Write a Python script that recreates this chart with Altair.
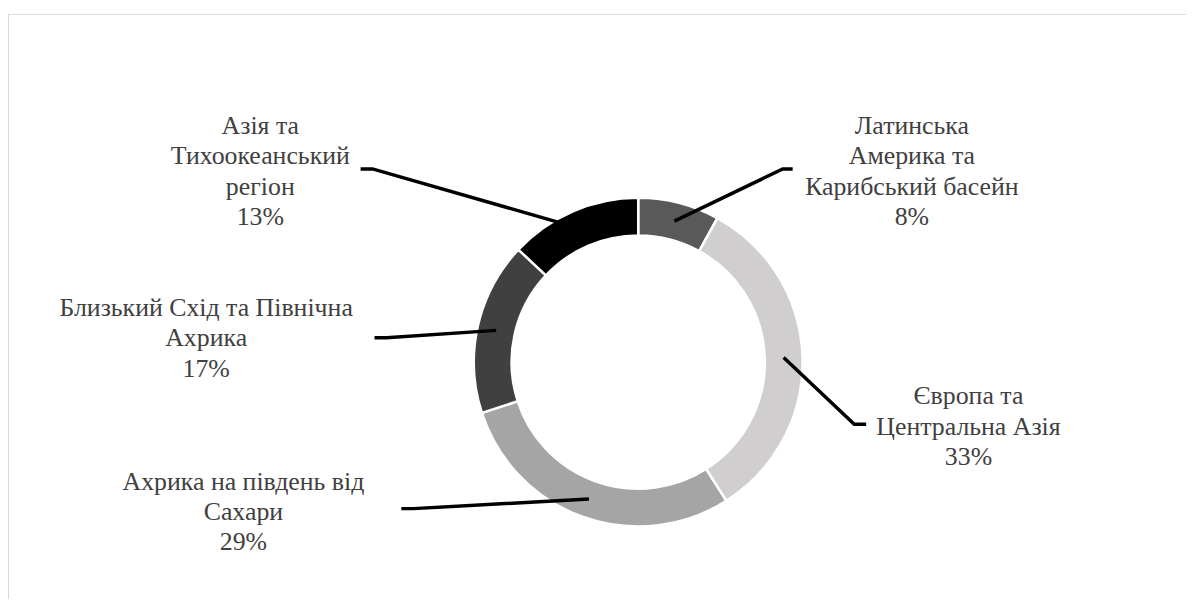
import math
import altair as alt
import pandas as pd

# ---- data ----
categories = [
    "Латинська\nАмерика та\nКарибський басейн",
    "Європа та\nЦентральна Азія",
    "Ахрика на південь від\nСахари",
    "Близький Схід та Північна\nАхрика",
    "Азія та\nТихоокеанський\nрегіон",
]
values = [8, 33, 29, 17, 13]
colors = ["#595959", "#d0cece", "#a5a5a5", "#404040", "#000000"]

# ---- layout (chart pixel space) ----
W, H = 1186, 593
CX, CY = 634.5, 354.5
R_OUT, R_IN = 165.5, 127.5
R_MID = (R_OUT + R_IN) / 2
label_xy = [(910, 117), (967, 389), (237, 475), (199.5, 300), (254, 117)]
leader_elbow = [(780, 160), (852, 417), (408, 502), (381, 330), (367, 160)]
leader_end = [(790, 160), (864, 417), (396, 502), (369, 330), (355, 160)]

FONT = "Liberation Serif"

total = sum(values)
arc_df = pd.DataFrame({
    "cat": categories,
    "value": values,
    "idx": list(range(len(values))),
})

lab_rows, line_rows = [], []
cum = 0
for i, (c, v) in enumerate(zip(categories, values)):
    mid = (cum + v / 2) / total * 2 * math.pi
    cum += v
    px = CX + R_MID * math.sin(mid)
    py = CY - R_MID * math.cos(mid)
    lab_rows.append({"x": label_xy[i][0], "y": label_xy[i][1],
                     "text": f"{c}\n{v}%"})
    for k, (x, y) in enumerate([(px, py), leader_elbow[i], leader_end[i]]):
        line_rows.append({"cat": str(i), "k": k, "x": x, "y": y})

lab_df = pd.DataFrame(lab_rows)
line_df = pd.DataFrame(line_rows)

arcs = alt.Chart(arc_df).mark_arc(
    innerRadius=R_IN, outerRadius=R_OUT, stroke="white", strokeWidth=2.5
).encode(
    theta=alt.Theta("value:Q", stack=True),
    color=alt.Color("cat:N", scale=alt.Scale(domain=categories, range=colors), legend=None),
    order=alt.Order("idx:Q"),
    x=alt.value(CX),
    y=alt.value(CY),
)

leaders = alt.Chart(line_df).mark_line(color="black", strokeWidth=3.5, strokeJoin="miter").encode(
    x=alt.X("x:Q", scale=None, axis=None),
    y=alt.Y("y:Q", scale=None, axis=None),
    detail="cat:N",
    order="k:Q",
)

labels = alt.Chart(lab_df).mark_text(
    font=FONT, fontSize=26, lineHeight=30.5, color="#404040",
    align="center", baseline="middle", lineBreak="\n"
).encode(
    x=alt.X("x:Q", scale=None, axis=None),
    y=alt.Y("y:Q", scale=None, axis=None),
    text="text:N",
)

frame_top = alt.Chart(pd.DataFrame({"a": [0]})).mark_rule(color="#d9d9d9", strokeWidth=1).encode(
    x=alt.value(0), x2=alt.value(W), y=alt.value(4.5)
)
frame_left = alt.Chart(pd.DataFrame({"a": [0]})).mark_rule(color="#d9d9d9", strokeWidth=1).encode(
    x=alt.value(0.5), y=alt.value(4), y2=alt.value(H)
)

chart = alt.layer(frame_top, frame_left, arcs, leaders, labels).properties(
    width=W, height=H, padding=0, autosize=alt.AutoSizeParams(type="none")
).configure(font=FONT).configure_view(stroke=None)

chart.save("out.html", embed_options={"renderer": "svg", "actions": False})
